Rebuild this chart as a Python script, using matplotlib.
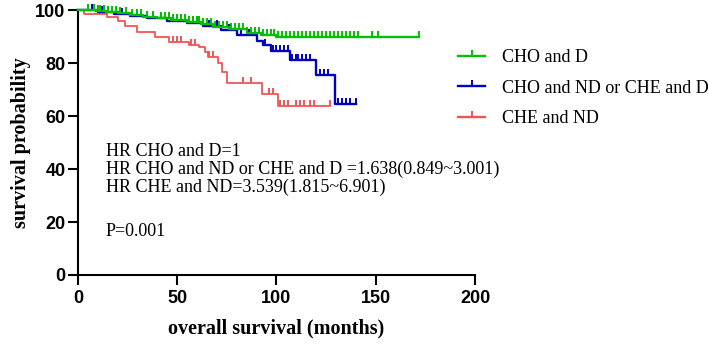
import numpy as np
import matplotlib
matplotlib.use("Agg")
import matplotlib.pyplot as plt
from matplotlib.lines import Line2D

## survival curves (months, % surviving)
green_t = [0, 5, 9, 14, 20, 26, 33, 40, 47, 55, 62, 68, 76, 85, 92, 100]
green_s = [100, 100, 99.6, 99.2, 98.8, 98.2, 97.5, 97.0, 96.4, 95.6, 94.8, 93.7, 93.0, 91.2, 90.5, 89.8]
green_end = 172
green_cens = [5, 8, 10, 11, 13, 15, 17, 19, 21, 24, 27, 30, 32, 35, 38, 42, 44, 46, 48, 50,
              52, 54, 56, 58, 60, 61, 63, 65, 67, 69, 71, 73, 75, 77, 79, 81, 83, 85, 87, 89,
              91, 93, 95, 97, 99, 101, 103, 105, 107, 109, 111, 113, 115, 117, 119, 121, 123,
              125, 127, 129, 131, 133, 135, 137, 139, 141, 148, 151, 172]

blue_t = [0, 10, 18, 26, 35, 45, 55, 63, 72, 80, 90, 93, 97, 107, 120, 129.5]
blue_s = [100, 99.3, 98.5, 97.7, 96.9, 96.0, 95.0, 93.8, 92.4, 90.6, 88.2, 86.8, 84.5, 81.3, 75.6, 64.5]
blue_end = 140
blue_cens = [7, 12, 15, 22, 30, 38, 42, 50, 58, 60, 66, 70, 76, 82, 86, 94, 98, 100, 102, 104,
             106, 108, 110, 111, 113, 115, 117, 122, 124, 126, 131, 133, 135, 137, 140]

red_t = [0, 3, 14.6, 20, 23.7, 29.7, 38.8, 46, 56, 61, 64, 65.5, 70.5, 72.4, 75, 92.5, 100.8]
red_s = [100, 98.7, 97.5, 96.0, 94.0, 91.8, 90.0, 88.0, 86.8, 85.9, 84.3, 82.4, 80.0, 76.7, 72.4, 68.3, 63.8]
red_end = 127
red_cens = [48, 50, 52, 57, 59, 66, 68, 83, 87, 96, 98, 102, 104, 106, 110, 112, 114, 117, 119, 127]

labels = ["CHO and D", "CHO and ND or CHE and D", "CHE and ND"]
colors = ["#00C000", "#0000C0", "#F05555"]
hr_lines = ["HR CHO and D=1",
            "HR CHO and ND or CHE and D =1.638(0.849~3.001)",
            "HR CHE and ND=3.539(1.815~6.901)"]
p_text = "P=0.001"

serif = ["Liberation Serif", "DejaVu Serif"]
sans = ["Liberation Sans", "DejaVu Sans"]

fig = plt.figure(figsize=(7.08, 3.47), dpi=100)
ax = fig.add_axes([0.110, 0.2075, 0.561, 0.7635])


def draw_curve(t, s, end, cens, color, lw):
    tt = list(t) + [end]
    ss = list(s) + [s[-1]]
    ax.step(tt, ss, where="post", color=color, lw=lw, clip_on=False, zorder=3)
    idx = np.searchsorted(t, cens, side="right") - 1
    cy = np.array(s)[idx]
    ax.plot(cens, cy, ls="none", marker=2, ms=4, mew=1.4, color=color, clip_on=False, zorder=3)


draw_curve(red_t, red_s, red_end, red_cens, colors[2], 1.3)
draw_curve(blue_t, blue_s, blue_end, blue_cens, colors[1], 1.7)
draw_curve(green_t, green_s, green_end, green_cens, colors[0], 1.7)

ax.set_xlim(0, 200)
ax.set_ylim(0, 100)
ax.set_xticks([0, 50, 100, 150, 200])
ax.set_yticks([0, 20, 40, 60, 80, 100])
for sp in ["top", "right"]:
    ax.spines[sp].set_visible(False)
for sp in ["left", "bottom"]:
    ax.spines[sp].set_linewidth(1.5)
ax.tick_params(length=7, width=1.5, pad=2)
ax.tick_params(axis="x", pad=4)
for lab in ax.get_xticklabels() + ax.get_yticklabels():
    lab.set_family(sans)
    lab.set_fontweight("bold")
    lab.set_fontsize(13)

ax.set_xlabel("overall survival (months)", family=serif, fontweight="bold", fontsize=14.5, labelpad=8)
ax.set_ylabel("survival probability", family=serif, fontweight="bold", fontsize=14.5, labelpad=3)

# HR annotation block
for i, line in enumerate(hr_lines):
    fig.text(106 / 708, 1 - (152 + 17.5 * i) / 347, line, family=serif, fontsize=13,
             va="center", ha="left")
fig.text(106 / 708, 1 - 231 / 347, p_text, family=serif, fontsize=13, va="center", ha="left")

handles = [Line2D([], [], color=c, lw=1.7, marker=2, ms=4, mew=1.4) for c in colors]
fig.legend(handles, labels, loc="upper left", bbox_to_anchor=(442 / 708, 1 - 33 / 347),
           frameon=False, prop={"family": serif, "size": 13}, handlelength=1.5,
           handletextpad=0.9, labelspacing=0.75, numpoints=1)

fig.savefig("out.png", dpi=100)
